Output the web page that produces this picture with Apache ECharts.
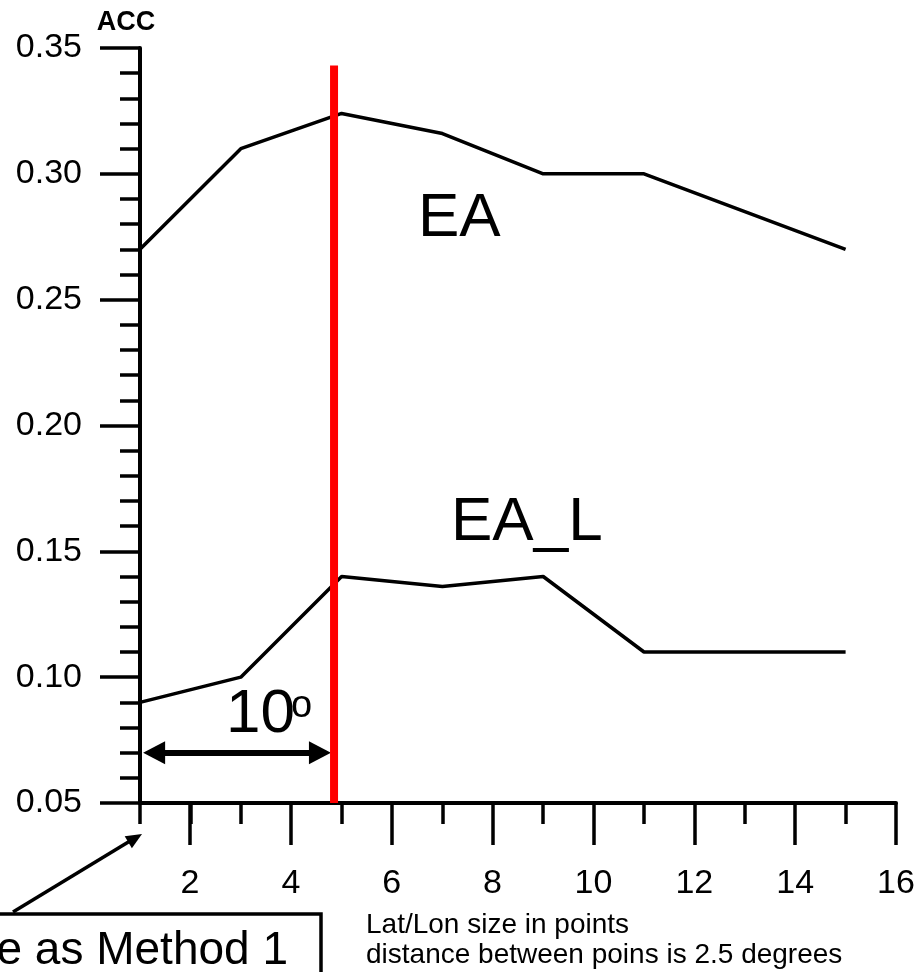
<!DOCTYPE html>
<html>
<head>
<meta charset="utf-8">
<script src="https://cdn.jsdelivr.net/npm/echarts@6/dist/echarts.min.js"></script>
<style>
  html, body { margin: 0; padding: 0; background: #fff; }
  #chart { width: 920px; height: 972px; }
</style>
</head>
<body>
<div id="chart"></div>
<script>
// lat/lon size in points
var xPoints = [1, 3, 5, 7, 9, 11, 13, 15];
var eaValues = [0.27, 0.31, 0.324, 0.316, 0.30, 0.30, 0.285, 0.27];
var eaLValues = [0.09, 0.10, 0.14, 0.136, 0.14, 0.11, 0.11, 0.11];
// red marker line and 10 degree span arrow
var redLineX = 4.85;
var redLineY = [0.05, 0.343];
var spanX = [1.28, 4.57];
var spanY = 0.07;
var yTicks = [0.05, 0.35, 0.05]; // min, max, step
var xTicks = [2, 16, 2];

var font = '"Liberation Sans", Arial, sans-serif';

var myChart = echarts.init(document.getElementById('chart'));

function pairs(xs, ys) {
    return xs.map(function (x, i) { return [x, ys[i]]; });
}

var option = {
    animation: false,
    grid: [
        { left: 140, right: 24, top: 48, bottom: 169 },
        { left: 190, right: 24, top: 48, bottom: 169 }
    ],
    xAxis: [
        {
            type: 'value', gridIndex: 0, min: 1, max: 16, interval: 1,
            axisLine: { lineStyle: { color: '#000', width: 4 } },
            axisTick: { length: 21, lineStyle: { color: '#000', width: 3.5 } },
            axisLabel: { show: false },
            splitLine: { show: false }
        },
        {
            type: 'value', gridIndex: 1, min: xTicks[0], max: xTicks[1], interval: xTicks[2],
            axisLine: { show: false },
            axisTick: { length: 42, lineStyle: { color: '#000', width: 3.5 } },
            axisLabel: { margin: 64, fontSize: 34, color: '#000', fontFamily: font },
            splitLine: { show: false }
        }
    ],
    yAxis: [
        {
            type: 'value', gridIndex: 0, min: yTicks[0], max: yTicks[1], interval: yTicks[2],
            name: 'ACC', nameGap: 12,
            nameTextStyle: { fontSize: 27, fontWeight: 'bold', color: '#000', fontFamily: font, padding: [0, 28, 0, 0] },
            axisLine: { lineStyle: { color: '#000', width: 4 } },
            axisTick: { length: 40, lineStyle: { color: '#000', width: 3.5 } },
            minorTick: { show: true, splitNumber: 5, length: 20, lineStyle: { color: '#000', width: 3.5 } },
            axisLabel: {
                margin: 58, fontSize: 34, color: '#000', fontFamily: font,
                formatter: function (v) { return v.toFixed(2); }
            },
            splitLine: { show: false },
            minorSplitLine: { show: false }
        },
        {
            type: 'value', gridIndex: 1, min: yTicks[0], max: yTicks[1], show: false
        }
    ],
    series: [
        {
            name: 'EA', type: 'line', xAxisIndex: 0, yAxisIndex: 0,
            data: pairs(xPoints, eaValues), showSymbol: false,
            lineStyle: { color: '#000', width: 3.5 }
        },
        {
            name: 'EA_L', type: 'line', xAxisIndex: 0, yAxisIndex: 0,
            data: pairs(xPoints, eaLValues), showSymbol: false,
            lineStyle: { color: '#000', width: 3.5 },
            markLine: {
                silent: true,
                symbol: ['triangle', 'triangle'],
                symbolSize: [23, 22],
                label: { show: false },
                lineStyle: { color: '#000', width: 6, type: 'solid' },
                data: [[{ coord: [spanX[0], spanY] }, { coord: [spanX[1], spanY] }]]
            }
        },
        {
            name: 'marker', type: 'line', xAxisIndex: 0, yAxisIndex: 0, z: 5,
            data: pairs([redLineX, redLineX], redLineY), showSymbol: false,
            lineStyle: { color: '#ff0000', width: 8, cap: 'butt' }
        }
    ],
    graphic: [
        { type: 'text', left: 418, top: 188, style: { text: 'EA', font: '62px ' + font, fill: '#000' } },
        { type: 'text', left: 451, top: 492, style: { text: 'EA_L', font: '62px ' + font, fill: '#000' } },
        { type: 'text', left: 226, top: 684, style: { text: '10', font: '62px ' + font, fill: '#000' } },
        { type: 'text', left: 291, top: 688, style: { text: 'o', font: '38px ' + font, fill: '#000' } },
        { type: 'text', left: 366, top: 911, style: { text: 'Lat/Lon size in points', font: '28px ' + font, fill: '#000' } },
        { type: 'text', left: 366, top: 941, style: { text: 'distance between poins is 2.5 degrees', font: '28px ' + font, fill: '#000' } },
        {
            type: 'rect', shape: { x: -10, y: 914, width: 331, height: 80 },
            style: { fill: '#fff', stroke: '#000', lineWidth: 3.5 }
        },
        {
            type: 'text', x: 288, y: 928, z: 10,
            style: { text: 'Same as Method 1', font: '46px ' + font, fill: '#000', align: 'right', verticalAlign: 'top' }
        },
        {
            type: 'line', shape: { x1: 13, y1: 912, x2: 130, y2: 841 },
            style: { stroke: '#000', lineWidth: 3.5 }
        },
        {
            type: 'polygon', shape: { points: [[142, 834], [131.9, 848.3], [124.7, 836.3]] },
            style: { fill: '#000' }
        }
    ]
};

myChart.setOption(option);
</script>
</body>
</html>
